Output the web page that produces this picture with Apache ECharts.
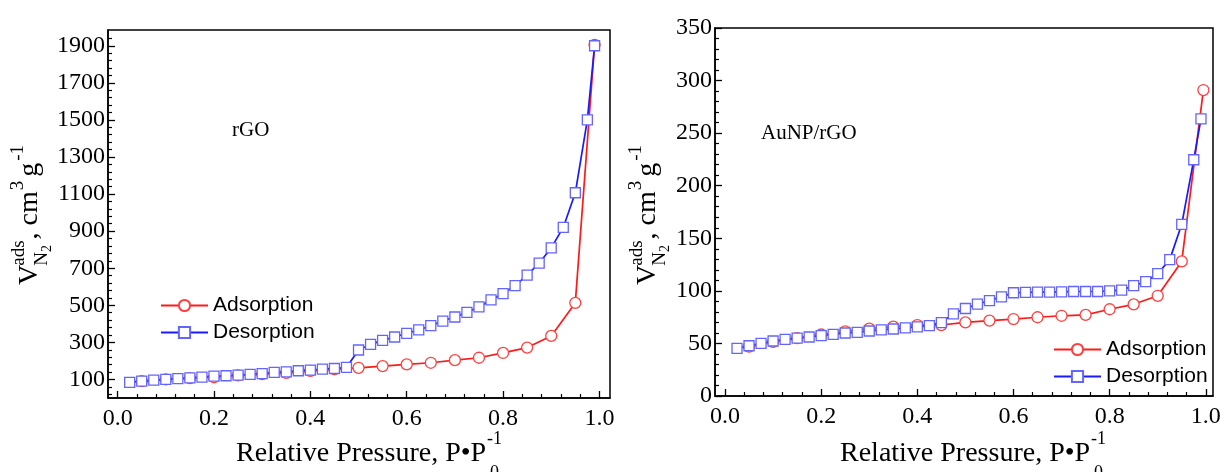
<!DOCTYPE html>
<html><head><meta charset="utf-8">
<script src="https://cdn.jsdelivr.net/npm/echarts@6/dist/echarts.min.js"></script>
<style>html,body{margin:0;padding:0;background:#fff}#c{width:1224px;height:472px}</style>
</head><body><div id="c"></div>
<script>
// ---------- data ----------
const xTickLabels = ['0.0', '0.2', '0.4', '0.6', '0.8', '1.0'];
const rgoYTickLabels = [100, 300, 500, 700, 900, 1100, 1300, 1500, 1700, 1900];
const aunpYTickLabels = [0, 50, 100, 150, 200, 250, 300, 350];
const seriesNames = ['Adsorption', 'Desorption'];

const rgoAdsP = [0.05, 0.1, 0.15, 0.2, 0.25, 0.3, 0.35, 0.4, 0.45, 0.5, 0.55, 0.6, 0.65, 0.7, 0.75, 0.8, 0.85, 0.9, 0.95, 0.99];
const rgoAdsV = [91, 100, 107, 112, 122, 129, 136, 146, 155, 163, 172, 181, 190, 204, 217, 243, 272, 335, 513, 1905];

const rgoDesP = [0.025, 0.05, 0.075, 0.1, 0.125, 0.15, 0.175, 0.2, 0.225, 0.25, 0.275, 0.3, 0.325, 0.35, 0.375, 0.4, 0.425, 0.45, 0.475, 0.5,
                 0.525, 0.55, 0.575, 0.6, 0.625, 0.65, 0.675, 0.7, 0.725, 0.75, 0.775, 0.8, 0.825, 0.85, 0.875, 0.9, 0.925, 0.95, 0.975, 0.99];
const rgoDesV = [84, 91, 96, 100, 104, 109, 113, 118, 120, 123, 127, 132, 138, 141, 147, 150, 156, 159, 165, 259,
                 289, 311, 329, 349, 367, 390, 415, 437, 462, 491, 529, 563, 606, 663, 727, 810, 920, 1107, 1500, 1900];

const aunpAdsP = [0.05, 0.1, 0.15, 0.2, 0.25, 0.3, 0.35, 0.4, 0.45, 0.5, 0.55, 0.6, 0.65, 0.7, 0.75, 0.8, 0.85, 0.9, 0.95, 0.995];
const aunpAdsV = [47, 51.5, 55, 58.5, 61.5, 64, 66, 67.5, 67.5, 70, 71.7, 73.2, 74.9, 76.3, 77.2, 82.5, 87.2, 95.3, 128, 291];

const aunpDesP = [0.025, 0.05, 0.075, 0.1, 0.125, 0.15, 0.175, 0.2, 0.225, 0.25, 0.275, 0.3, 0.325, 0.35, 0.375, 0.4, 0.425, 0.45, 0.475, 0.5,
                  0.525, 0.55, 0.575, 0.6, 0.625, 0.65, 0.675, 0.7, 0.725, 0.75, 0.775, 0.8, 0.825, 0.85, 0.875, 0.9, 0.925, 0.95, 0.975, 0.99];
const aunpDesV = [45.3, 47.8, 50, 52.3, 53.9, 55.1, 56.1, 57.4, 58.6, 59.9, 60.6, 61.8, 62.8, 63.7, 64.7, 65.7, 66.9, 69.8, 78.1, 83.2,
                  87.3, 90.8, 94.3, 98.2, 98.5, 98.8, 98.8, 99.1, 99.4, 99.4, 99.4, 100, 100.7, 104.9, 108.7, 116.3, 129.7, 163.3, 224.7, 263.6];

// ---------- helpers ----------
const SERIF = "'Liberation Serif', 'Times New Roman', serif";
const SANS = "'Liberation Sans', Arial, sans-serif";
const zip = (a, b) => a.map((v, i) => [v, b[i]]);
const steps = (from, to, step) => { const r = []; for (let v = from; v <= to + 1e-9; v += step) r.push(+v.toFixed(6)); return r; };
const mctx = document.createElement('canvas').getContext('2d');
const tw = (t, s, f) => { mctx.font = s + 'px ' + f; return mctx.measureText(t).width; };

const xMajor = xTickLabels.map(Number);
const xMinor = steps(0, 1.0, 0.04).filter(v => !xMajor.some(m => Math.abs(m - v) < 1e-6));
const rgoYMinor = steps(20, 1940, 40).filter(v => !rgoYTickLabels.includes(v));
const aunpYMinor = steps(0, 350, 10).filter(v => !aunpYTickLabels.includes(v));

const RED = '#ff1a1a', RED_M = '#ff4040', BLUE = '#1a1aff', BLUE_M = '#6464ff';

function xAxes(grid, min, max) {
  return [
    { gridIndex: grid, type: 'value', position: 'bottom', min, max,
      axisLine: { show: true, onZero: false, lineStyle: { color: '#000', width: 1.5 } },
      axisTick: { show: true, inside: true, length: 7, customValues: xMajor, lineStyle: { color: '#000', width: 1.3 } },
      axisLabel: { show: true, customValues: xMajor, margin: 9, color: '#000', fontFamily: SERIF, fontSize: 24,
        formatter: v => { const i = xMajor.findIndex(m => Math.abs(m - v) < 1e-6); return i >= 0 ? xTickLabels[i] : ''; } },
      splitLine: { show: false } },
    { gridIndex: grid, type: 'value', position: 'bottom', min, max,
      axisLine: { show: false, onZero: false },
      axisTick: { show: true, inside: true, length: 4, customValues: xMinor, lineStyle: { color: '#000', width: 1.2 } },
      axisLabel: { show: false }, splitLine: { show: false } }
  ];
}
function yAxes(grid, min, max, major, minor) {
  return [
    { gridIndex: grid, type: 'value', position: 'left', min, max,
      axisLine: { show: true, onZero: false, lineStyle: { color: '#000', width: 1.5 } },
      axisTick: { show: true, inside: true, length: 7, customValues: major, lineStyle: { color: '#000', width: 1.3 } },
      axisLabel: { show: true, customValues: major, margin: 3, color: '#000', fontFamily: SERIF, fontSize: 24,
        formatter: v => String(Math.round(v)) },
      splitLine: { show: false } },
    { gridIndex: grid, type: 'value', position: 'left', min, max,
      axisLine: { show: false, onZero: false },
      axisTick: { show: true, inside: true, length: 4, customValues: minor, lineStyle: { color: '#000', width: 1.2 } },
      axisLabel: { show: false }, splitLine: { show: false } }
  ];
}
function lineSeries(name, x, y, data, isAds) {
  return {
    name, type: 'line', xAxisIndex: x, yAxisIndex: y, data, clip: false,
    symbol: isAds ? 'circle' : 'rect', symbolSize: isAds ? 11 : 10,
    lineStyle: { color: isAds ? RED : BLUE, width: 1.7 },
    itemStyle: { color: '#fff', borderColor: isAds ? RED_M : BLUE_M, borderWidth: 1.3 },
    emphasis: { disabled: true }, z: isAds ? 2 : 3
  };
}
function txt(t, size, fam, x, y, align) {
  return { type: 'text', x, y, silent: true,
    style: { text: t, font: size + 'px ' + fam, fill: '#000', textAlign: align || 'left', align: align || 'left',
             textVerticalAlign: 'middle', verticalAlign: 'middle' } };
}
// rotated y title:  V^ads_N2 , cm^3 g^-1
function yTitle(cx, by) {
  const M = 28, S = 19, SS = 14; const kids = []; let x = 0;
  kids.push(txt('V', M, SERIF, 0, 0)); x = tw('V', M, SERIF) - 1;
  kids.push(txt('ads', S, SERIF, x, -11));
  kids.push(txt('N', S, SERIF, x, 12));
  kids.push(txt('2', SS, SERIF, x + tw('N', S, SERIF), 17));
  x += Math.max(tw('ads', S, SERIF), tw('N', S, SERIF) + tw('2', SS, SERIF)) + 1;
  kids.push(txt(', cm', M, SERIF, x, 0)); x += tw(', cm', M, SERIF);
  kids.push(txt('3', S, SERIF, x + 1, -12)); x += tw('3', S, SERIF) + 5;
  kids.push(txt('g', M, SERIF, x, 0)); x += tw('g', M, SERIF) + 2;
  kids.push(txt('-1', S, SERIF, x, -12));
  return { type: 'group', x: cx, y: by, rotation: Math.PI / 2, children: kids };
}
// x title: Relative Pressure, P•P^-1_0
function xTitle(sx, cy) {
  const M = 28, S = 18; const main = 'Relative Pressure, P\u2022P';
  const w = tw(main, M, SERIF);
  return { type: 'group', x: sx, y: cy, children: [
    txt(main, M, SERIF, 0, 0),
    txt('-1', S, SERIF, w + 1, -15),
    txt('0', S, SERIF, w + 4, 19)
  ] };
}

// ---------- chart ----------
const chart = echarts.init(document.getElementById('c'), null, { renderer: 'canvas' });
const legendBase = { data: seriesNames, orient: 'vertical', padding: 0, itemWidth: 47, itemHeight: 14, itemGap: 6,
  textStyle: { fontFamily: SANS, fontSize: 21, color: '#000', lineHeight: 21 }, selectedMode: false };
chart.setOption({
  animation: false,
  backgroundColor: '#fff',
  grid: [
    { left: 108, top: 30, width: 502, height: 368, show: true, borderColor: '#000', borderWidth: 1.5, backgroundColor: 'transparent' },
    { left: 715, top: 28, width: 498, height: 368, show: true, borderColor: '#000', borderWidth: 1.5, backgroundColor: 'transparent' }
  ],
  xAxis: [...xAxes(0, -0.02, 1.022), ...xAxes(1, -0.0208, 1.015)],
  yAxis: [...yAxes(0, 0, 1985, rgoYTickLabels, rgoYMinor), ...yAxes(1, 0, 350, aunpYTickLabels, aunpYMinor)],
  legend: [
    Object.assign({}, legendBase, { left: 160, top: 295 }),
    Object.assign({}, legendBase, { left: 1053, top: 339 })
  ],
  series: [
    lineSeries(seriesNames[0], 0, 0, zip(rgoAdsP, rgoAdsV), true),
    lineSeries(seriesNames[1], 0, 0, zip(rgoDesP, rgoDesV), false),
    lineSeries(seriesNames[0], 2, 2, zip(aunpAdsP, aunpAdsV), true),
    lineSeries(seriesNames[1], 2, 2, zip(aunpDesP, aunpDesV), false)
  ],
  graphic: [
    yTitle(30, 285),
    yTitle(648, 285),
    xTitle(236, 454),
    xTitle(840, 454),
    txt('rGO', 21, SERIF, 232, 130),
    txt('AuNP/rGO', 21, SERIF, 761, 133)
  ]
});
</script>
</body></html>
